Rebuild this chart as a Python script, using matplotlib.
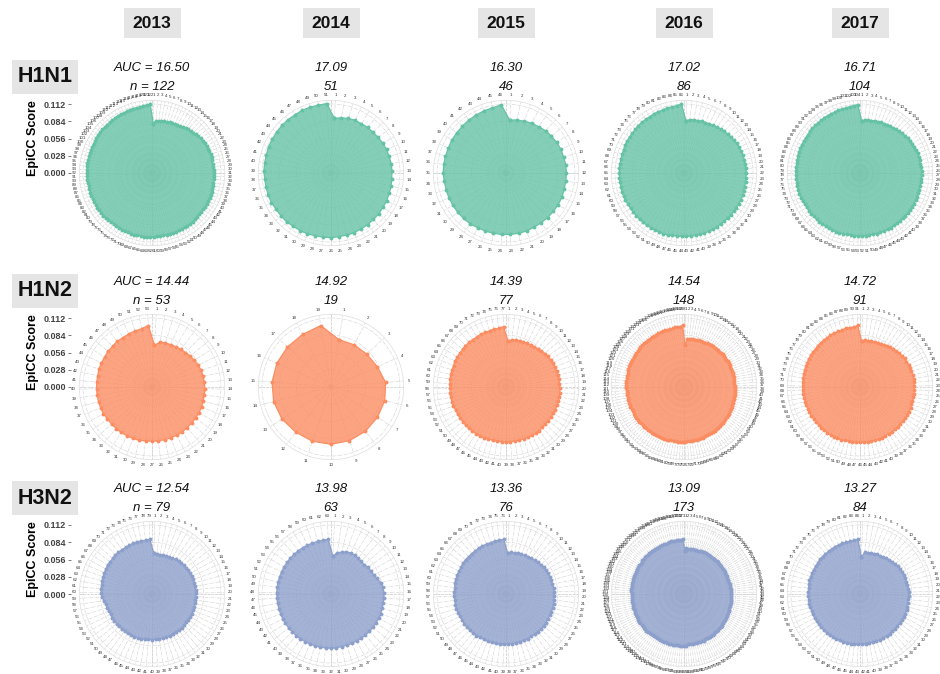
import numpy as np
import matplotlib.pyplot as plt
from matplotlib.patches import Rectangle

# ---------------------------------------------------------------
# data (EpiCC score per epitope, in units of 0.001, clockwise from top)

years = ['2013', '2014', '2015', '2016', '2017']
subtypes = ['H1N1', 'H1N2', 'H3N2']
colors = ['#66c2a5', '#fc8d62', '#8da0cb']

auc_h1n1 = [16.50, 17.09, 16.30, 17.02, 16.71]
auc_h1n2 = [14.44, 14.92, 14.39, 14.54, 14.72]
auc_h3n2 = [12.54, 13.98, 13.36, 13.09, 13.27]

score_ticks = [0.000, 0.028, 0.056, 0.084, 0.112]

h1n1_2013 = [80, 85, 85, 86, 86, 86, 87, 87, 88, 88,
             89, 90, 91, 92, 93, 94, 95, 96, 97, 98,
             98, 99, 99, 99, 100, 100, 100, 100, 100, 101, 101, 101, 101, 101, 101, 101, 102, 102, 102, 102,
             102, 102, 102, 102, 102, 102, 102, 103, 103, 103, 103, 103, 103, 103, 103, 103, 103, 103, 103, 103,
             104, 104, 104, 104, 104, 104, 104, 104, 104, 104,
             104, 104, 104, 104, 104, 104, 105, 105, 105, 105, 105, 105, 105, 105, 105, 105, 105, 105, 105, 106,
             106, 106, 106, 106, 106, 106, 106, 106, 106, 106,
             106, 106, 107, 107, 107, 107, 107, 107, 107, 107, 108, 108, 108, 108, 108, 109, 109, 109, 109, 110,
             110, 112]
h1n1_2014 = [89, 91, 93, 94, 94, 95, 95, 96, 97, 98,
             98, 99, 99, 99, 100, 100, 101, 101, 102, 102,
             103, 103, 104, 104, 104, 105, 105, 105, 106, 106,
             106, 107, 107, 107, 108, 108, 108, 108, 109, 109,
             109, 110, 110, 110, 111, 111, 111, 112, 112, 112, 113]
h1n1_2015 = [86, 88, 89, 91, 92, 94, 95, 96, 97, 97,
             98, 98, 98, 98, 99, 99, 99, 99, 99, 99,
             100, 100, 100, 100, 100, 100, 100, 101, 101, 101,
             101, 101, 101, 101, 102, 102, 102, 102, 103, 103,
             104, 105, 106, 107, 108, 111]
h1n1_2016 = [85, 87, 88, 88, 89, 89, 90, 91, 92, 93,
             94, 95, 96, 97, 98, 99, 99, 100, 100, 100,
             101, 101, 101, 101, 101, 101, 102, 102, 102, 102,
             102, 102, 102, 102, 102, 103, 103, 103, 103, 103,
             103, 103, 103, 103, 103, 103, 104, 104, 104, 104,
             104, 104, 104, 104, 104, 104, 104, 104, 105, 105,
             105, 105, 105, 105, 105, 105, 105, 105, 105, 105,
             106, 106, 106, 106, 106, 107, 107, 107, 107, 108, 108, 108, 109, 109, 110, 112]
h1n1_2017 = [85, 86, 87, 87, 88, 88, 89, 89, 90, 90,
             91, 92, 93, 94, 95, 96, 97, 97, 98, 98,
             99, 99, 99, 99, 100, 100, 100, 100, 100, 100,
             100, 100, 101, 101, 101, 101, 101, 101, 101, 101,
             101, 101, 101, 102, 102, 102, 102, 102, 102, 102,
             102, 102, 102, 102, 102, 102, 102, 103, 103, 103,
             103, 103, 103, 103, 103, 103, 103, 103, 103, 103,
             103, 104, 104, 104, 104, 104, 104, 104, 104, 104,
             104, 104, 105, 105, 105, 105, 105, 105, 105, 106,
             106, 106, 106, 106, 107, 107, 107, 107, 108, 108,
             108, 109, 110, 111]

h1n2_2013 = [68, 74, 75, 75, 76, 77, 78, 80, 81, 83,
             84, 85, 85, 86, 86, 86, 87, 87, 87, 87,
             87, 88, 88, 88, 88, 88, 88, 88, 89, 89,
             89, 89, 89, 89, 89, 90, 90, 90, 90, 90,
             90, 90, 91, 91, 91, 92, 92, 93, 93, 94,
             95, 96, 100]
h1n2_2014 = [78, 78, 79, 82, 89, 90, 90, 91, 92, 93,
             93, 93, 95, 96, 96, 96, 96, 97, 101]
h1n2_2015 = [75, 77, 78, 78, 78, 79, 79, 80, 81, 82,
             83, 84, 85, 85, 86, 86, 87, 87, 87, 87,
             88, 88, 88, 88, 88, 88, 88, 88, 88, 88,
             89, 89, 89, 89, 89, 89, 89, 89, 89, 89,
             89, 89, 89, 90, 90, 90, 90, 90, 90, 90,
             90, 90, 90, 91, 91, 91, 91, 91, 91, 92,
             92, 92, 92, 93, 93, 93, 93, 94, 94, 94,
             94, 95, 95, 95, 96, 96, 98]
h1n2_2016 = [68,
             78, 79, 79, 79, 79, 79, 80, 80, 80, 80, 80, 80, 81, 81, 81, 81, 81, 81, 81,
             82, 82, 82, 82, 82, 82, 82, 82, 82, 82, 82, 82, 82, 82, 82, 82, 82, 82, 83, 83,
             83, 83, 83, 83, 84, 84, 84, 84, 84, 85, 85, 85, 85, 85, 86, 86, 86, 86, 86, 87,
             87, 87, 87, 87, 87, 88, 88, 88, 88, 88, 88, 88, 88, 89, 89, 89, 89, 89, 89, 89,
             89, 90, 90, 90, 90, 90, 90, 90, 91, 91, 91, 91, 91, 91, 91, 92, 92, 92, 92, 92,
             92, 92, 93, 93, 93, 93, 93, 93, 93, 93, 94, 94, 94, 94, 94, 94, 94, 94, 95, 95,
             95, 95, 95, 95, 95, 95, 95, 95, 96, 96, 96, 96, 96, 96, 96, 96, 96, 97, 97, 97,
             97, 97, 97, 97, 98, 98, 98, 100]
h1n2_2017 = [74, 76, 76, 77, 77, 77, 78, 79, 80, 81,
             82, 83, 84, 85, 86, 86, 87, 87, 87, 88,
             88, 88, 88, 88, 88, 88, 88, 88, 89, 89,
             89, 89, 89, 89, 89, 89, 89, 89, 89, 90,
             90, 90, 90, 90, 90, 90, 90, 90, 90, 90,
             91, 91, 91, 91, 91, 91, 91, 91, 91, 91,
             92, 92, 92, 92, 92, 92, 93, 93, 93, 93,
             93, 94, 94, 94, 94, 95, 95, 95, 95, 96,
             96, 96, 96, 97, 97, 97, 97, 98, 98, 98, 100]

h3n2_2013 = [67, 65, 65, 65, 66, 66, 67, 68, 69, 69,
             70, 70, 70, 70, 71, 71, 71, 71, 71, 71,
             71, 71, 71, 72, 72, 72, 72, 72, 72, 73,
             73, 73, 73, 73, 74, 74, 74, 74, 74, 74,
             74, 74, 75, 75, 75, 75, 75, 75, 75, 75,
             75, 75, 75, 75, 75, 76, 77, 79, 81, 82,
             83, 83, 84, 84, 85, 85, 86, 86, 86, 87,
             87, 87, 87, 87, 88, 88, 88, 88, 89]
h3n2_2014 = [61, 68, 70, 73, 74, 74, 73, 72, 72, 74,
             75, 76, 79, 83, 85, 86, 86, 86, 86, 87,
             87, 87, 87, 87, 87, 87, 87, 87, 87, 87,
             88, 88, 88, 88, 88, 88, 88, 88, 88, 88,
             88, 88, 88, 88, 88, 88, 88, 88, 88, 88,
             88, 88, 88, 88, 88, 88, 88, 88, 88, 88,
             88, 88, 89]
h3n2_2015 = [66, 68, 68, 69, 69, 70, 70, 71, 72, 73,
             74, 75, 76, 76, 77, 77, 77, 78, 78, 78,
             78, 79, 79, 79, 79, 79, 80, 80, 80, 80,
             80, 80, 81, 81, 81, 81, 81, 81, 82, 82,
             82, 82, 82, 82, 82, 83, 83, 83, 83, 83,
             83, 83, 83, 84, 84, 84, 84, 84, 84, 85,
             85, 85, 85, 85, 86, 86, 86, 86, 86, 87,
             87, 87, 87, 88, 88, 89]
h3n2_2016 = [70,
             74, 74, 74, 74, 74, 74, 74, 74, 75, 75, 75, 75, 75, 75, 75, 75, 75, 75, 75, 75,
             75, 75, 75, 75, 75, 75, 75, 75, 75, 75, 75, 75, 75, 75, 75, 75, 76, 76, 76, 76,
             76, 76, 76, 76, 76, 77, 77, 77, 77, 77, 77, 78, 78, 78, 78, 78, 79, 79, 79, 79,
             79, 80, 80, 80, 80, 80, 80, 81, 81, 81, 81, 81, 81, 81, 82, 82, 82, 82, 82, 82,
             82, 82, 82, 82, 84, 84, 84, 84, 84, 84, 84, 84, 84, 84, 84, 84, 84, 84, 84, 84,
             84, 84, 84, 84, 84, 84, 85, 85, 85, 85, 85, 85, 85, 85, 85, 85, 85, 85, 85, 85,
             85, 85, 85, 85, 85, 85, 85, 85, 85, 85, 86, 86, 86, 86, 86, 86, 86, 86, 86, 86,
             86, 86, 86, 86, 86, 86, 86, 87, 87, 87, 87, 87, 87, 87, 87, 87, 87, 87, 87, 87,
             87, 87, 87, 87, 88, 88, 88, 88, 88, 88, 88, 89]
h3n2_2017 = [60, 68, 68, 69, 69, 70, 70, 71, 72, 73,
             74, 75, 76, 77, 77, 78, 78, 78, 78, 79,
             79, 79, 79, 79, 79, 80, 80, 80, 80, 80,
             80, 80, 80, 81, 81, 81, 81, 81, 81, 81,
             81, 82, 82, 82, 82, 82, 82, 82, 82, 82,
             83, 83, 83, 83, 83, 83, 83, 83, 83, 84,
             84, 84, 84, 84, 84, 84, 85, 85, 85, 85,
             85, 85, 86, 86, 86, 86, 86, 87, 87, 87,
             87, 87, 88, 89]

scores = [[h1n1_2013, h1n1_2014, h1n1_2015, h1n1_2016, h1n1_2017],
          [h1n2_2013, h1n2_2014, h1n2_2015, h1n2_2016, h1n2_2017],
          [h3n2_2013, h3n2_2014, h3n2_2015, h3n2_2016, h3n2_2017]]
aucs = [auc_h1n1, auc_h1n2, auc_h3n2]

# ---------------------------------------------------------------
# layout (pixels)

W, H = 940, 674
col_x = [152, 331, 506, 684, 860]
row_y = [173, 387, 594]
rmax = 0.118
R = rmax / 0.112 * 69   # 0.112 sits 69 px from the centre

plt.rcParams['font.family'] = ['Liberation Sans', 'DejaVu Sans']

fig = plt.figure(figsize=(W / 100, H / 100), dpi=100)


def box(cx, cy, w, h):
    fig.patches.append(Rectangle(((cx - w / 2) / W, 1 - (cy + h / 2) / H), w / W, h / H,
                                 transform=fig.transFigure, fc='#e5e5e5', ec='none', zorder=0))


# year headers
for c, yr in enumerate(years):
    box(col_x[c], 23, 57, 30)
    fig.text(col_x[c] / W, 1 - 23 / H, yr, ha='center', va='center',
             fontsize=12.5, fontweight='bold', color='#111111')

for r, sub in enumerate(subtypes):
    cy = row_y[r]
    col = colors[r]

    # subtype label
    box(45, cy - 96, 66, 34)
    fig.text(45 / W, 1 - (cy - 96) / H, sub, ha='center', va='center',
             fontsize=15.5, fontweight='bold', color='#111111')

    # score axis on the left
    sa = fig.add_axes([71 / W, 1 - cy / H, 0.0005, 0.112 / rmax * R / H])
    sa.set_ylim(0, 0.112)
    sa.set_yticks(score_ticks)
    sa.set_yticklabels(['%.3f' % t for t in score_ticks], fontsize=6.5,
                       fontweight='bold', color='#444444')
    sa.tick_params(axis='y', length=2, width=0.6, color='#666666', pad=1.5)
    sa.set_xticks([])
    for s in sa.spines.values():
        s.set_visible(False)
    sa.set_ylabel('EpiCC Score', fontsize=9, fontweight='bold', labelpad=3)

    for c, yr in enumerate(years):
        cx = col_x[c]
        vals = np.array(scores[r][c]) / 1000.0
        n = len(vals)
        theta = 2 * np.pi * (np.arange(n) + 0.5) / n

        ax = fig.add_axes([(cx - R) / W, 1 - (cy + R) / H, 2 * R / W, 2 * R / H],
                          projection='polar')
        ax.set_theta_zero_location('N')
        ax.set_theta_direction(-1)
        ax.set_facecolor('none')

        th = np.append(theta, theta[0])
        v = np.append(vals, vals[0])
        ax.fill(th, v, color=col, alpha=0.8, lw=0, zorder=2)
        ax.plot(th, v, color=col, lw=0.9, marker='o', ms=1.8, zorder=3)

        # dashed cross through the centre
        for a in (0, np.pi / 2, np.pi, 3 * np.pi / 2):
            ax.plot([a, a], [0, rmax], color='#c8c8c8', lw=0.5, ls='--', zorder=1)

        ax.set_ylim(0, rmax)
        ax.set_yticks(score_ticks[1:])
        ax.set_yticklabels([])
        ax.set_xticks(theta)
        ax.set_xticklabels([str(i + 1) for i in range(n)], fontsize=3.2, color='#333333')
        ax.tick_params(axis='x', length=0, pad=-3)
        ax.grid(True, color='#d0d0d0', lw=0.4, ls='-.')
        ax.spines['polar'].set_color('#dddddd')
        ax.spines['polar'].set_linewidth(0.5)

        # AUC and n
        auc = aucs[r][c]
        t1 = 'AUC = %.2f' % auc if c == 0 else '%.2f' % auc
        t2 = 'n = %d' % n if c == 0 else '%d' % n
        fig.text(cx / W, 1 - (cy - 105) / H, t1, ha='center', va='center',
                 fontsize=9.5, style='italic', color='#111111')
        fig.text(cx / W, 1 - (cy - 86) / H, t2, ha='center', va='center',
                 fontsize=9.5, style='italic', color='#111111')

fig.savefig('out.png', dpi=100, facecolor='white')
